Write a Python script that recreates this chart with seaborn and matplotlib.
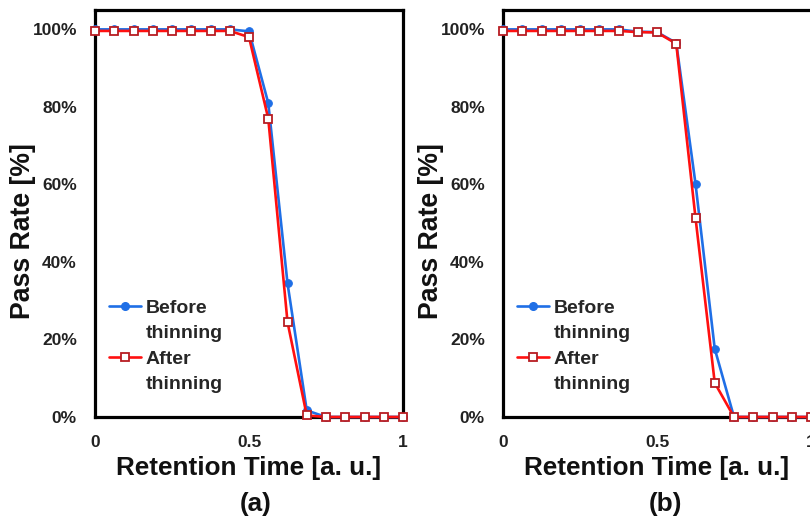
import numpy as np
import pandas as pd
import matplotlib
matplotlib.use("Agg")
import matplotlib.pyplot as plt
from matplotlib.lines import Line2D
from matplotlib.ticker import FixedLocator, FuncFormatter
import seaborn as sns

# retention time steps (a. u.)
retention = [k / 16 for k in range(17)]

# panel (a)
before_a = [100, 100, 100, 100, 100, 100, 100, 100, 99.5, 81, 34.5, 1.7, 0, 0, 0, 0, 0]
after_a = [99.6, 99.6, 99.6, 99.6, 99.6, 99.6, 99.6, 99.6, 98, 77, 24.5, 0.4, 0, 0, 0, 0, 0]

# panel (b)
before_b = [100, 100, 100, 100, 100, 100, 100, 99.4, 99.3, 96.5, 60.2, 17.6, 0, 0, 0, 0, 0]
after_b = [99.6, 99.6, 99.6, 99.6, 99.6, 99.6, 99.6, 99.3, 99.2, 96.3, 51.4, 8.8, 0, 0, 0, 0, 0]

panel_names = ["(a)", "(b)"]
y_ticks = [0, 20, 40, 60, 80, 100]
x_ticks = [0, 0.5, 1]
x_tick_labels = ["0", "0.5", "1"]

sns.set_theme(style="white")
plt.rcParams["font.family"] = ["Liberation Sans", "DejaVu Sans"]
plt.rcParams["font.weight"] = "bold"

BLUE = "#1f6fe6"
RED = "#ff1010"
DARKRED = "#b81c22"

fig = plt.figure(figsize=(8.10, 5.23), dpi=100)
ax_a = fig.add_axes([95 / 810, 106 / 523, 308 / 810, 407 / 523])
ax_b = fig.add_axes([503 / 810, 106 / 523, 308 / 810, 407 / 523])

panels = [(ax_a, before_a, after_a), (ax_b, before_b, after_b)]
caption_x = [256 / 810, 665 / 810]

for (ax, before, after), name, cx in zip(panels, panel_names, caption_x):
    df = pd.DataFrame({"t": retention, "before": before, "after": after})
    sns.lineplot(data=df, x="t", y="before", ax=ax, color=BLUE, linewidth=1.9,
                 marker="o", markersize=5.5, markerfacecolor=BLUE,
                 markeredgecolor=BLUE, clip_on=False, zorder=3)
    sns.lineplot(data=df, x="t", y="after", ax=ax, color=RED, linewidth=1.9,
                 marker="s", markersize=6, markerfacecolor="white",
                 markeredgecolor=DARKRED, markeredgewidth=1.3,
                 clip_on=False, zorder=4)

    ax.set_xlim(0, 1)
    ax.set_ylim(0, 105)
    ax.yaxis.set_major_locator(FixedLocator(y_ticks))
    ax.yaxis.set_major_formatter(FuncFormatter(lambda v, p: f"{v:.0f}%"))
    ax.set_xticks(x_ticks)
    ax.set_xticklabels(x_tick_labels)
    ax.tick_params(axis="both", direction="in", length=4, width=2,
                   labelsize=12.5, colors="black")
    ax.tick_params(axis="x", pad=13)
    ax.tick_params(axis="y", pad=13)
    for lab in ax.get_xticklabels() + ax.get_yticklabels():
        lab.set_fontweight("bold")
        lab.set_color("#222222")

    for sp in ax.spines.values():
        sp.set_visible(True)
        sp.set_color("black")
        sp.set_linewidth(2.3)

    ax.set_xlabel("Retention Time [a. u.]", fontsize=18.8, fontweight="bold", color="#111111")
    ax.set_ylabel("Pass Rate [%]", fontsize=19.2, fontweight="bold", color="#111111")
    ax.xaxis.set_label_coords(0.5, -0.095)
    ax.yaxis.set_label_coords(-0.19, 0.457)

    h_before = Line2D([], [], color=BLUE, linewidth=1.9, marker="o", markersize=5.5,
                      markerfacecolor=BLUE, markeredgecolor=BLUE)
    h_after = Line2D([], [], color=RED, linewidth=1.9, marker="s", markersize=6,
                     markerfacecolor="white", markeredgecolor=DARKRED, markeredgewidth=1.3)
    blank = Line2D([], [], linestyle="none")
    ax.legend([h_before, blank, h_after, blank],
              ["Before", "thinning", "After", "thinning"],
              loc="upper left", bbox_to_anchor=(0.045, 0.29), frameon=False,
              borderpad=0, borderaxespad=0, handlelength=1.65, handletextpad=0.25,
              labelspacing=0.41, prop={"size": 14, "weight": "bold"})

    fig.text(cx, 0.036, name, ha="center", va="center", fontsize=18.8, fontweight="bold",
             color="#111111")

fig.savefig("out.png", dpi=100)
